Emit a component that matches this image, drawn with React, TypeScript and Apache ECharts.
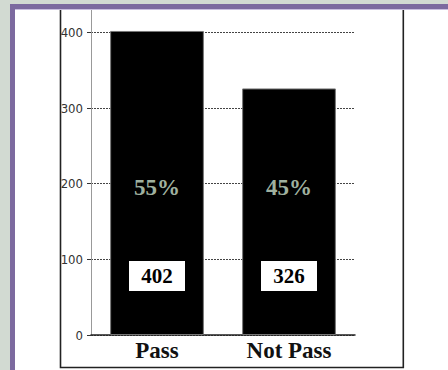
import React, { useEffect, useRef } from 'react';
import * as echarts from 'echarts';

const categories = ['Pass', 'Not Pass'];
const counts = [402, 326];
const yTickValues = [0, 100, 200, 300, 400];

export default function App() {
  const ref = useRef<HTMLDivElement>(null);

  useEffect(() => {
    const chart = echarts.init(ref.current as HTMLDivElement, null, { renderer: 'svg' });
    const total = counts.reduce((a, b) => a + b, 0);
    const pct = counts.map((v) => Math.round((v / total) * 100) + '%');
    const serif = "'Liberation Serif', 'Times New Roman', serif";

    chart.setOption({
      animation: false,
      backgroundColor: '#ffffff',
      graphic: [
        { type: 'rect', z: 99, shape: { x: 60.5, y: -5, width: 342.8, height: 372.5 }, style: { fill: 'none', stroke: '#222', lineWidth: 1.6 } },
        { type: 'rect', z: 100, shape: { x: 0, y: 0, width: 448, height: 4 }, style: { fill: '#d2dad2' } },
        { type: 'rect', z: 100, shape: { x: 0, y: 0, width: 10, height: 370 }, style: { fill: '#d2dad2' } },
        { type: 'rect', z: 100, shape: { x: 10, y: 4, width: 438, height: 5 }, style: { fill: '#7c6a9f' } },
        { type: 'rect', z: 100, shape: { x: 10, y: 4, width: 5, height: 366 }, style: { fill: '#7c6a9f' } },
        { type: 'rect', z: 100, shape: { x: 15, y: 9, width: 433, height: 1 }, style: { fill: '#c9bfdf' } },
      ],
      grid: { left: 91, right: 93, top: 6, bottom: 35, containLabel: false },
      xAxis: {
        type: 'category',
        data: categories,
        axisLine: { show: true, lineStyle: { color: '#222', width: 1.5 } },
        axisTick: { show: false },
        axisLabel: {
          margin: 4,
          color: '#111',
          fontFamily: serif,
          fontWeight: 'bold',
          fontSize: 23,
          lineHeight: 23,
          interval: 0,
        },
      },
      yAxis: {
        type: 'value',
        min: 0,
        max: 435,
        interval: 100,
        axisLine: { show: true, lineStyle: { color: '#999', width: 1 } },
        axisTick: { show: true, length: 4, lineStyle: { color: '#333', width: 1 } },
        axisLabel: {
          margin: 8,
          color: '#333',
          fontSize: 13,
          fontFamily: "'Liberation Sans Narrow', 'DejaVu Sans Condensed', sans-serif",
          showMaxLabel: false,
          formatter: (v: number) => (yTickValues.indexOf(v) >= 0 ? String(v) : ''),
        },
        splitLine: { show: true, lineStyle: { color: '#444', width: 1, type: [2, 1] } },
      },
      series: [
        {
          type: 'bar',
          data: counts,
          barWidth: '71%',
          itemStyle: { color: '#000', borderColor: '#777', borderWidth: 1 },
          label: {
            show: true,
            position: 'insideBottom',
            distance: 136,
            formatter: (p: any) => pct[p.dataIndex],
            color: '#9fb09f',
            fontFamily: serif,
            fontWeight: 'bold',
            fontSize: 23,
            lineHeight: 23,
          },
        },
        {
          type: 'bar',
          data: counts,
          barWidth: '71%',
          barGap: '-100%',
          z: 3,
          itemStyle: { color: 'transparent' },
          label: {
            show: true,
            position: 'insideBottom',
            distance: 44,
            formatter: '{c}',
            color: '#000',
            backgroundColor: '#fff',
            width: 56,
            padding: [5, 0],
            align: 'center',
            fontFamily: serif,
            fontWeight: 'bold',
            fontSize: 21,
            lineHeight: 20,
          },
        },
      ],
    });

    return () => chart.dispose();
  }, []);

  return (
    <div
      ref={ref}
      style={{ position: 'fixed', left: 0, top: 0, width: 448, height: 370 }}
    />
  );
}
